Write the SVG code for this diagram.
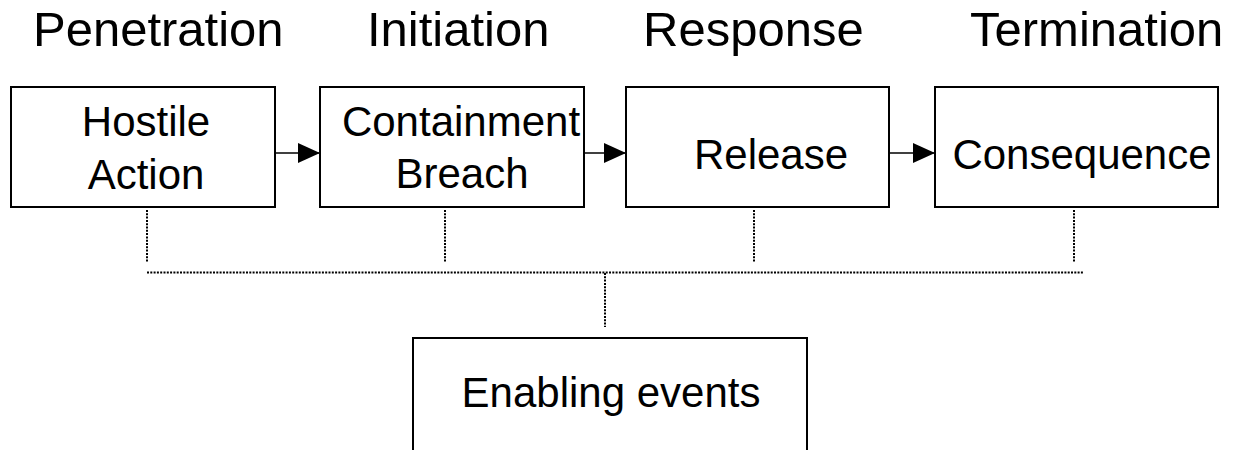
<svg xmlns="http://www.w3.org/2000/svg" width="1238" height="450" viewBox="0 0 1238 450">
  <style>
    .box { fill: #ffffff; stroke: #000000; stroke-width: 2; }
    .t { font-family: "Liberation Sans", Arial, sans-serif; fill: #000000; }
    .phase { font-size: 49px; }
    .lbl { font-size: 42px; }
    .flow { stroke: #000000; stroke-width: 1.5; fill: none; }
    .dot { stroke: #000000; stroke-width: 2; stroke-dasharray: 2 1.3; fill: none; }
  </style>
  <defs>
    <marker id="arrow" markerWidth="22" markerHeight="20" refX="22" refY="10" orient="auto" markerUnits="userSpaceOnUse">
      <path d="M0,0 L22,10 L0,20 Z" fill="#000000"/>
    </marker>
  </defs>

  <g id="phases">
    <text class="t phase" x="33" y="46">Penetration</text>
    <text class="t phase" x="367" y="46">Initiation</text>
    <text class="t phase" x="643" y="46">Response</text>
    <text class="t phase" x="970" y="46">Termination</text>
  </g>

  <g id="connectors">
    <line class="flow" x1="275" y1="153" x2="320" y2="153" marker-end="url(#arrow)"/>
    <line class="flow" x1="584" y1="153" x2="626" y2="153" marker-end="url(#arrow)"/>
    <line class="flow" x1="889" y1="153" x2="935" y2="153" marker-end="url(#arrow)"/>
    <line class="dot" x1="147" y1="210" x2="147" y2="262"/>
    <line class="dot" x1="445" y1="210" x2="445" y2="262"/>
    <line class="dot" x1="754" y1="210" x2="754" y2="262"/>
    <line class="dot" x1="1074" y1="210" x2="1074" y2="262"/>
    <line class="dot" x1="147" y1="272.5" x2="1083" y2="272.5"/>
    <line class="dot" x1="605" y1="273" x2="605" y2="327"/>
  </g>

  <g id="hostile-action">
    <rect class="box" x="11" y="87" width="264" height="120"/>
    <text class="t lbl" x="146" y="136" text-anchor="middle">Hostile</text>
    <text class="t lbl" x="146" y="189" text-anchor="middle">Action</text>
  </g>

  <g id="containment-breach">
    <rect class="box" x="320" y="87" width="264" height="120"/>
    <text class="t lbl" x="461" y="136" text-anchor="middle">Containment</text>
    <text class="t lbl" x="462" y="188" text-anchor="middle">Breach</text>
  </g>

  <g id="release">
    <rect class="box" x="626" y="87" width="263" height="120"/>
    <text class="t lbl" x="771" y="169" text-anchor="middle">Release</text>
  </g>

  <g id="consequence">
    <rect class="box" x="935" y="87" width="283" height="120"/>
    <text class="t lbl" x="1082" y="169" text-anchor="middle">Consequence</text>
  </g>

  <g id="enabling-events">
    <rect class="box" x="413" y="338" width="394" height="130"/>
    <text class="t lbl" x="611" y="407" text-anchor="middle">Enabling events</text>
  </g>
</svg>
